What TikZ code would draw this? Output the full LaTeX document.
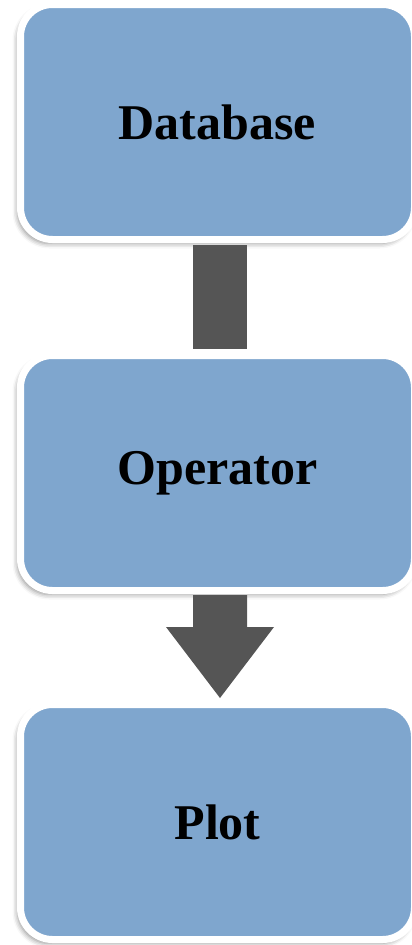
\documentclass[tikz,border=0pt]{standalone}
\usepackage{fontspec}
\setmainfont{Liberation Serif}
\usetikzlibrary{calc,shadows.blur}
\definecolor{boxblue}{RGB}{127,166,206}
\definecolor{arrowgray}{RGB}{85,85,85}
\tikzset{
  stagebox/.style={rounded corners=32pt, fill=boxblue, draw=white, line width=7pt,
    minimum width=394pt, minimum height=235pt, inner sep=0pt,
    blur shadow={shadow xshift=-3pt, shadow yshift=-4pt, shadow blur radius=5pt, shadow opacity=45},
    font=\fontsize{50}{54}\selectfont\bfseries, text=black},
  linkbar/.style={fill=arrowgray}
}
\begin{document}
\begin{tikzpicture}[x=1pt,y=1pt]
\useasboundingbox (0,0) rectangle (412,-945);
\node[stagebox] (b1) at (217.5,-122) {Database};
\node[stagebox] (b2) at (217.5,-473) {Operator};
\node[stagebox] (b3) at (217.5,-822) {Plot};
% connector 1: plain bar
\fill[linkbar] ($(b1.south)+(-24.5,-2)$) rectangle ($(b2.north)+(29.5,3)$);
% connector 2: block arrow
\fill[linkbar] ($(b2.south)+(-24.5,-1)$) -- ($(b2.south)+(29.5,-1)$)
  -- ($(b2.south)+(29.5,-33)$) -- ($(b2.south)+(56.5,-33)$)
  -- ($(b3.north)+(2.5,3)$)
  -- ($(b2.south)+(-51.5,-33)$) -- ($(b2.south)+(-24.5,-33)$) -- cycle;
\end{tikzpicture}
\end{document}
